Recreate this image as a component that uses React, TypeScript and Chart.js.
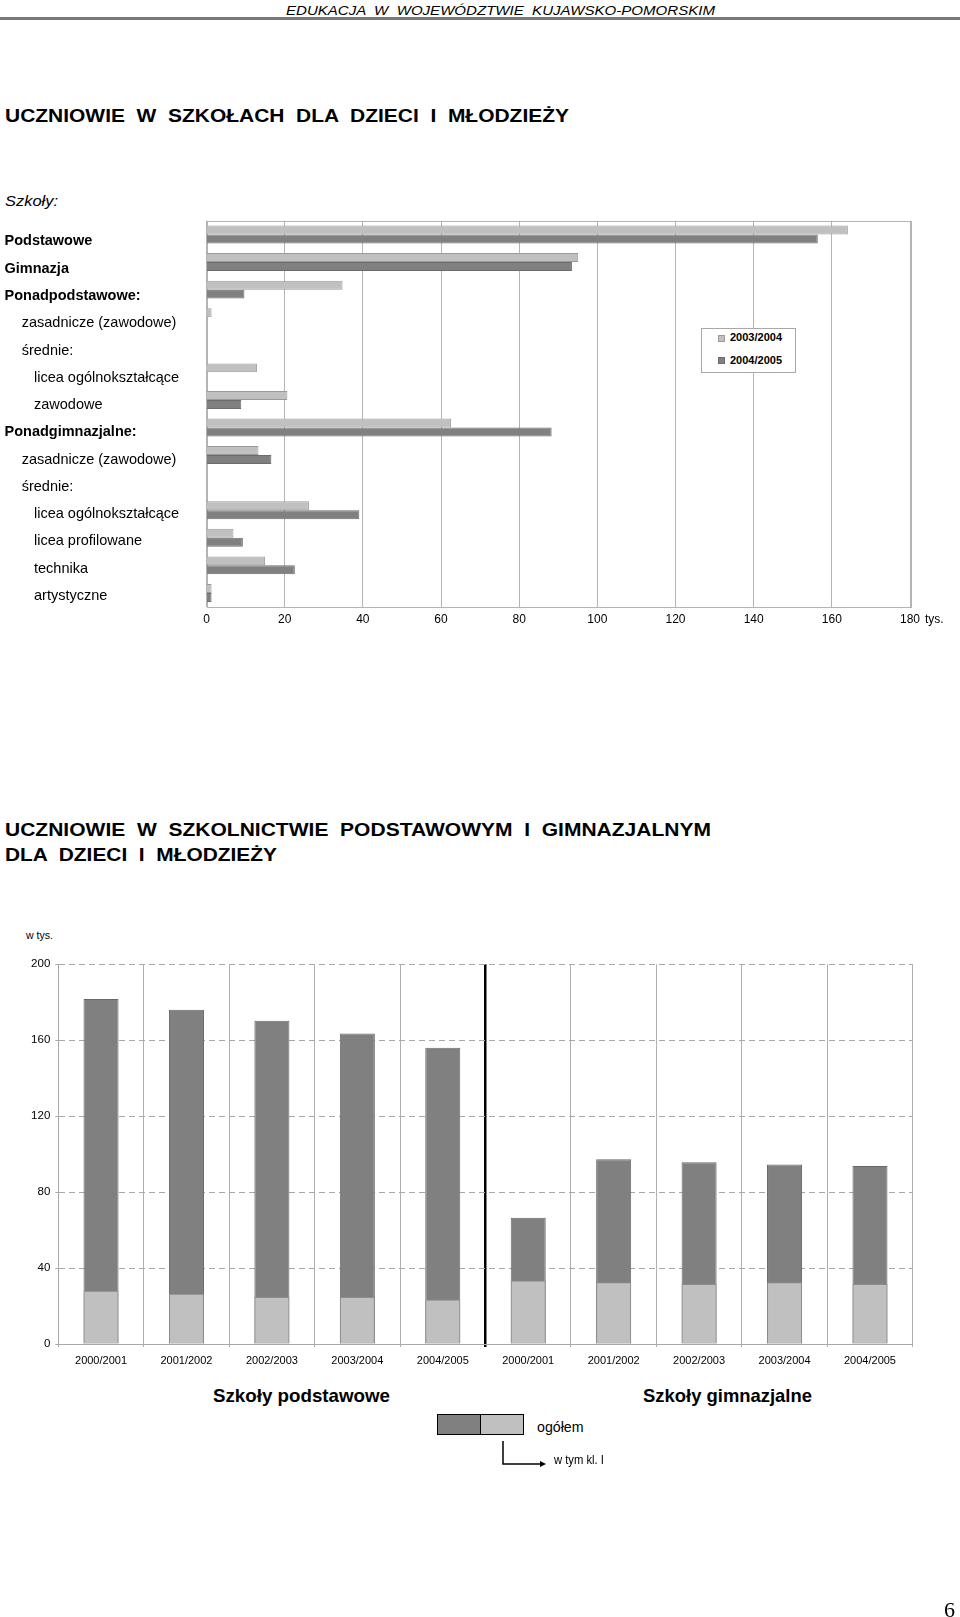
import React, { useEffect, useLayoutEffect, useRef } from 'react';
import { Chart, registerables } from 'chart.js';

Chart.register(...registerables);

const FONT = '"Liberation Sans", Arial, Helvetica, sans-serif';

// ---------- top chart data ----------
const schoolTypes = [
  'Podstawowe',
  'Gimnazja',
  'Ponadpodstawowe:',
  'zasadnicze (zawodowe)',
  'średnie:',
  'licea ogólnokształcące',
  'zawodowe',
  'Ponadgimnazjalne:',
  'zasadnicze (zawodowe)',
  'średnie:',
  'licea ogólnokształcące',
  'licea profilowane',
  'technika',
  'artystyczne',
];
const schoolLevels = [0, 0, 0, 1, 1, 2, 2, 0, 1, 1, 2, 2, 2, 2];
const seriesNames = ['2003/2004', '2004/2005'];
const students2003 = [164.1, 95.1, 34.8, 1.3, null, 12.9, 20.7, 62.6, 13.3, null, 26.2, 6.9, 15.0, 1.3];
const students2004 = [156.4, 93.5, 9.7, null, null, null, 8.9, 88.3, 16.6, null, 39.1, 9.3, 22.6, 1.3];
const valueTicks = [0, 20, 40, 60, 80, 100, 120, 140, 160, 180];

// ---------- bottom chart data ----------
const schoolYears = [
  '2000/2001', '2001/2002', '2002/2003', '2003/2004', '2004/2005',
  '2000/2001', '2001/2002', '2002/2003', '2003/2004', '2004/2005',
];
const totalStudents = [181.7, 176.1, 170.3, 163.5, 156.1, 66.5, 97.3, 95.7, 94.6, 93.8];
const firstGrade = [28.1, 26.5, 24.8, 24.8, 23.4, 33.4, 32.5, 31.6, 32.5, 31.6];
const countTicks = [0, 40, 80, 120, 160, 200];
const bottomSeriesNames = ['ogółem', 'w tym kl. I'];

const LIGHT = '#c0c0c0';
const DARK = '#808080';
const LEVEL_X = [4.5, 21.7, 34];

type FTProps = {
  x: number; cy: number; w?: number; size: number; weight?: string | number;
  italic?: boolean; family?: string; color?: string; children: React.ReactNode;
};

function FitText({ x, cy, w, size, weight = 'normal', italic = false, family = FONT, color = '#000', children }: FTProps) {
  const ref = useRef<HTMLSpanElement>(null);
  useLayoutEffect(() => {
    const el = ref.current;
    if (!el) return;
    el.style.transform = 'none';
    const natural = el.getBoundingClientRect().width;
    if (w && natural > 0) el.style.transform = `scaleX(${w / natural})`;
  }, [w, children]);
  return (
    <span
      ref={ref}
      style={{
        position: 'absolute', left: x, top: cy - size * 0.6, fontSize: size,
        lineHeight: `${size * 1.2}px`, fontFamily: family, fontWeight: weight as any,
        fontStyle: italic ? 'italic' : 'normal', whiteSpace: 'pre', transformOrigin: '0 0', color,
      }}
    >
      {children}
    </span>
  );
}

function TopChart() {
  const ref = useRef<HTMLCanvasElement>(null);
  useEffect(() => {
    if (!ref.current) return;
    const framePlugin = {
      id: 'frame',
      beforeDatasetsDraw(chart: any) {
        const { ctx, chartArea: a } = chart;
        ctx.save();
        ctx.strokeStyle = '#b4b4b4';
        ctx.lineWidth = 1;
        ctx.strokeRect(Math.round(a.left) + 0.5, Math.round(a.top) + 0.5, Math.round(a.right - a.left), Math.round(a.bottom - a.top));
        ctx.restore();
      },
      afterDraw(chart: any) {
        const { ctx } = chart;
        const ys = chart.scales.y;
        const n = schoolTypes.length;
        const first = ys.getPixelForValue(0) + 11;
        const last = ys.getPixelForValue(n - 1) + 7;
        ctx.save();
        ctx.fillStyle = '#000';
        ctx.textAlign = 'left';
        ctx.textBaseline = 'alphabetic';
        schoolTypes.forEach((lab, i) => {
          const lvl = schoolLevels[i];
          ctx.font = `${lvl === 0 ? 'bold ' : ''}14.5px ${FONT}`;
          ctx.fillText(lab, LEVEL_X[lvl], first + ((last - first) * i) / (n - 1));
        });
        ctx.restore();
      },
    };
    const chart = new Chart(ref.current, {
      type: 'bar',
      data: {
        labels: schoolTypes,
        datasets: [
          { label: seriesNames[0], data: students2003 as any, backgroundColor: LIGHT, borderColor: '#9a9a9a', borderWidth: 1, barPercentage: 1, categoryPercentage: 0.65 },
          { label: seriesNames[1], data: students2004 as any, backgroundColor: DARK, borderColor: '#6c6c6c', borderWidth: 1, barPercentage: 1, categoryPercentage: 0.65 },
        ],
      },
      options: {
        indexAxis: 'y',
        responsive: false,
        animation: false,
        devicePixelRatio: 1,
        layout: { padding: { top: 10.7, right: 50, left: 0, bottom: 0 } },
        plugins: { legend: { display: false }, tooltip: { enabled: false } },
        scales: {
          x: {
            min: 0, max: 180,
            afterBuildTicks: (s: any) => { s.ticks = valueTicks.map((v) => ({ value: v })); },
            ticks: { color: '#000', font: { family: FONT, size: 12 }, padding: 6, maxRotation: 0 },
            grid: { color: '#b4b4b4', drawTicks: false },
            border: { display: false },
            afterFit: (s: any) => { s.height = 23.3; },
          },
          y: {
            ticks: { display: false },
            grid: { display: false },
            border: { display: false },
            afterFit: (s: any) => { s.width = 206.5; },
          },
        },
      },
      plugins: [framePlugin],
    } as any);
    return () => chart.destroy();
  }, []);
  return <canvas ref={ref} width={960} height={420} style={{ position: 'absolute', left: 0, top: 210, width: 960, height: 420 }} />;
}

function BottomChart() {
  const ref = useRef<HTMLCanvasElement>(null);
  useEffect(() => {
    if (!ref.current) return;
    const chart = new Chart(ref.current, {
      type: 'bar',
      data: {
        labels: schoolYears,
        datasets: [
          { label: bottomSeriesNames[1], data: firstGrade, backgroundColor: LIGHT, borderColor: '#8c8c8c', borderWidth: 1, grouped: false, barPercentage: 0.41, categoryPercentage: 1, order: 0 },
          { label: bottomSeriesNames[0], data: totalStudents, backgroundColor: DARK, borderColor: '#686868', borderWidth: 1, grouped: false, barPercentage: 0.41, categoryPercentage: 1, order: 1 },
        ],
      },
      options: {
        responsive: false,
        animation: false,
        devicePixelRatio: 1,
        layout: { padding: { top: 24.3, right: 47.3, left: 0, bottom: 0 } },
        plugins: { legend: { display: false }, tooltip: { enabled: false } },
        scales: {
          x: {
            grid: {
              offset: true,
              color: (c: any) => (c.index === 5 ? '#000' : '#b0b0b0'),
              lineWidth: (c: any) => (c.index === 5 ? 2.5 : 1),
              tickLength: 3,
            },
            ticks: { color: '#000', font: { family: FONT, size: 11 }, padding: 7.5, maxRotation: 0, autoSkip: false },
            border: { display: true, color: '#a8a8a8' },
            afterFit: (s: any) => { s.height = 36; },
          },
          y: {
            min: 0, max: 200,
            afterBuildTicks: (s: any) => { s.ticks = countTicks.map((v) => ({ value: v })); },
            ticks: { color: '#000', font: { family: FONT, size: 11.5 }, padding: 5 },
            grid: { color: '#a8a8a8', tickLength: 3, tickBorderDash: [] },
            border: { display: true, color: '#a8a8a8', dash: [6, 4] },
            afterFit: (s: any) => { s.width = 58.3; },
          },
        },
      },
    } as any);
    return () => chart.destroy();
  }, []);
  return <canvas ref={ref} width={960} height={440} style={{ position: 'absolute', left: 0, top: 940, width: 960, height: 440 }} />;
}

export default function App() {
  return (
    <div style={{ position: 'absolute', left: 0, top: 0, width: 960, height: 1617, background: '#fff', overflow: 'hidden', fontFamily: FONT }}>
      <FitText x={286} cy={10.5} w={429} size={13} italic>EDUKACJA  W  WOJEWÓDZTWIE  KUJAWSKO-POMORSKIM</FitText>
      <div style={{ position: 'absolute', left: 0, top: 17, width: 960, height: 3, background: '#7a7a7a' }} />

      <FitText x={5} cy={116} w={564} size={18.5} weight="bold">UCZNIOWIE  W  SZKOŁACH  DLA  DZIECI  I  MŁODZIEŻY</FitText>
      <FitText x={5} cy={202} w={53} size={14.5} italic>Szkoły:</FitText>

      <TopChart />
      <FitText x={925} cy={619} size={12}>tys.</FitText>

      <div style={{ position: 'absolute', left: 700.7, top: 327.7, width: 95, height: 45.6, boxSizing: 'border-box', border: '1px solid #a8a8a8', background: '#fff' }} />
      <div style={{ position: 'absolute', left: 718, top: 334.5, width: 7, height: 7, boxSizing: 'border-box', background: LIGHT, border: '1px solid #9a9a9a' }} />
      <FitText x={730} cy={338} size={11} weight="bold">{seriesNames[0]}</FitText>
      <div style={{ position: 'absolute', left: 718, top: 357.2, width: 7, height: 7, boxSizing: 'border-box', background: DARK, border: '1px solid #6c6c6c' }} />
      <FitText x={730} cy={360.7} size={11} weight="bold">{seriesNames[1]}</FitText>

      <FitText x={5} cy={830} w={706} size={18.5} weight="bold">UCZNIOWIE  W  SZKOLNICTWIE  PODSTAWOWYM  I  GIMNAZJALNYM</FitText>
      <FitText x={5} cy={855} w={272} size={18.5} weight="bold">DLA  DZIECI  I  MŁODZIEŻY</FitText>

      <FitText x={26} cy={936} w={27} size={11}>w tys.</FitText>
      <BottomChart />

      <FitText x={213} cy={1396} w={177} size={18.5} weight="bold">Szkoły podstawowe</FitText>
      <FitText x={643} cy={1396} w={169} size={18.5} weight="bold">Szkoły gimnazjalne</FitText>

      <div style={{ position: 'absolute', left: 437, top: 1413.5, width: 87, height: 21, boxSizing: 'border-box', border: '1.5px solid #000', display: 'flex' }}>
        <div style={{ width: 42, height: '100%', background: DARK, borderRight: '1.5px solid #000' }} />
        <div style={{ flex: 1, height: '100%', background: LIGHT }} />
      </div>
      <FitText x={537} cy={1427} w={46.6} size={14}>{bottomSeriesNames[0]}</FitText>
      <svg style={{ position: 'absolute', left: 0, top: 0, overflow: 'visible' }} width={960} height={1617}>
        <polyline points="503,1441 503,1464 543,1464" fill="none" stroke="#000" strokeWidth={1.5} />
        <polygon points="546,1464 540,1461 540,1467" fill="#000" />
      </svg>
      <FitText x={554} cy={1460} w={50} size={12}>{bottomSeriesNames[1]}</FitText>

      <FitText x={944} cy={1610} size={22} family={'"Liberation Serif", "Times New Roman", serif'}>6</FitText>
    </div>
  );
}
